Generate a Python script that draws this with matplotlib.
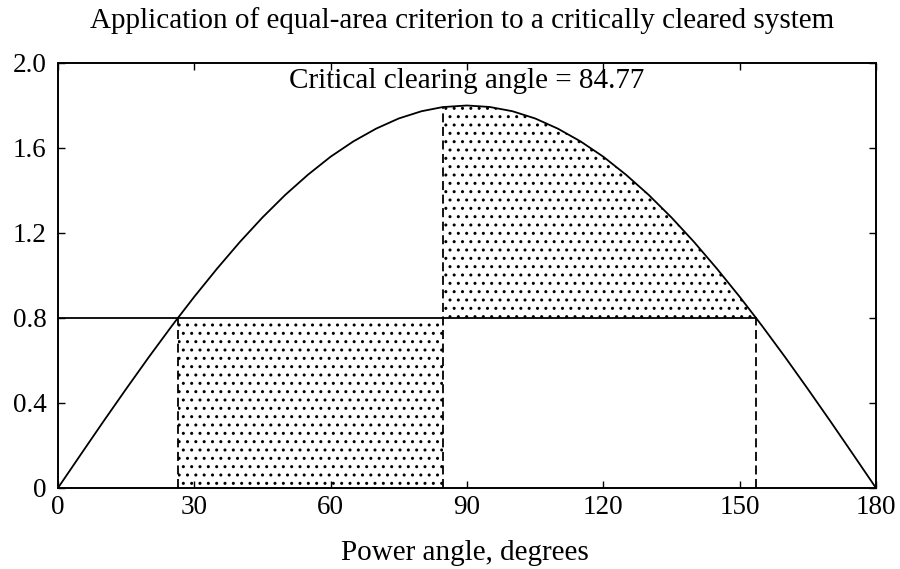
import matplotlib
matplotlib.use("Agg")
import matplotlib.pyplot as plt
import numpy as np

# Power-angle curve P = Pmax*sin(delta), Pmax = 1.8, tabulated in degrees
angle = [0, 5, 10, 15, 20, 25, 26.39, 30, 35, 40, 45, 50, 55, 60, 65, 70, 75, 80,
         84.77, 85, 90, 95, 100, 105, 110, 115, 120, 125, 130, 135, 140, 145, 150,
         153.61, 155, 160, 165, 170, 175, 180]
power = [0.000, 0.157, 0.313, 0.466, 0.616, 0.761, 0.800, 0.900, 1.032, 1.157, 1.273,
         1.379, 1.474, 1.559, 1.631, 1.691, 1.739, 1.773, 1.793, 1.793, 1.800, 1.793,
         1.773, 1.739, 1.691, 1.631, 1.559, 1.474, 1.379, 1.273, 1.157, 1.032, 0.900,
         0.800, 0.761, 0.616, 0.466, 0.313, 0.157, 0.000]

pm = 0.8            # mechanical input power
delta0 = 26.39      # initial operating angle
delta_c = 84.77     # critical clearing angle
delta_max = 153.61  # maximum swing angle

xticks = [0, 30, 60, 90, 120, 150, 180]
yticks = [0, 0.4, 0.8, 1.2, 1.6, 2.0]
ytick_labels = ["0", "0.4", "0.8", "1.2", "1.6", "2.0"]

plt.rcParams["font.family"] = ["Liberation Serif", "DejaVu Serif"]
plt.rcParams["hatch.linewidth"] = 1.0
plt.rcParams["hatch.color"] = "black"

fig = plt.figure(figsize=(9, 5.69), dpi=100)
ax = fig.add_axes([0.0644, 0.1424, 0.9089, 0.7469])

a = np.array(angle)
p = np.array(power)

ax.plot(a, p, color="black", lw=1.3)

# accelerating area (fault on, Pe = 0)
ax.fill_between([delta0, delta_c], 0, pm, facecolor="none", edgecolor="black",
                hatch="..", linewidth=0)
# decelerating area
m = (a >= delta_c) & (a <= delta_max)
ax.fill_between(a[m], pm, p[m], facecolor="none", edgecolor="black",
                hatch="..", linewidth=0)

ax.plot([0, delta_max], [pm, pm], color="black", lw=1.3)
pc = p[angle.index(delta_c)]
dash = dict(color="black", lw=1.3, linestyle=(0, (5, 2.5)))
ax.plot([delta0, delta0], [0, pm], **dash)
ax.plot([delta_c, delta_c], [0, pc], **dash)
ax.plot([delta_max, delta_max], [0, pm], **dash)

ax.text(90, 1.882, "Critical clearing angle = %.2f" % delta_c, ha="center",
        va="baseline", fontsize=21)

ax.set_xlim(0, 180)
ax.set_ylim(0, 2.0)
ax.set_xticks(xticks)
ax.set_yticks(yticks)
ax.set_yticklabels(ytick_labels)
ax.tick_params(direction="in", length=5, width=1.0, top=True, right=True,
               labelsize=19.5)
ax.tick_params(axis="x", pad=5)
ax.tick_params(axis="y", pad=8)
for s in ax.spines.values():
    s.set_linewidth(1.4)

ax.set_xlabel("Power angle, degrees", fontsize=21, va="baseline")
ax.xaxis.set_label_coords(0.4976, -0.17)
fig.text(0.513, 0.951, "Application of equal-area criterion to a critically cleared system",
         ha="center", va="baseline", fontsize=21)

fig.savefig("out.png", dpi=100)
